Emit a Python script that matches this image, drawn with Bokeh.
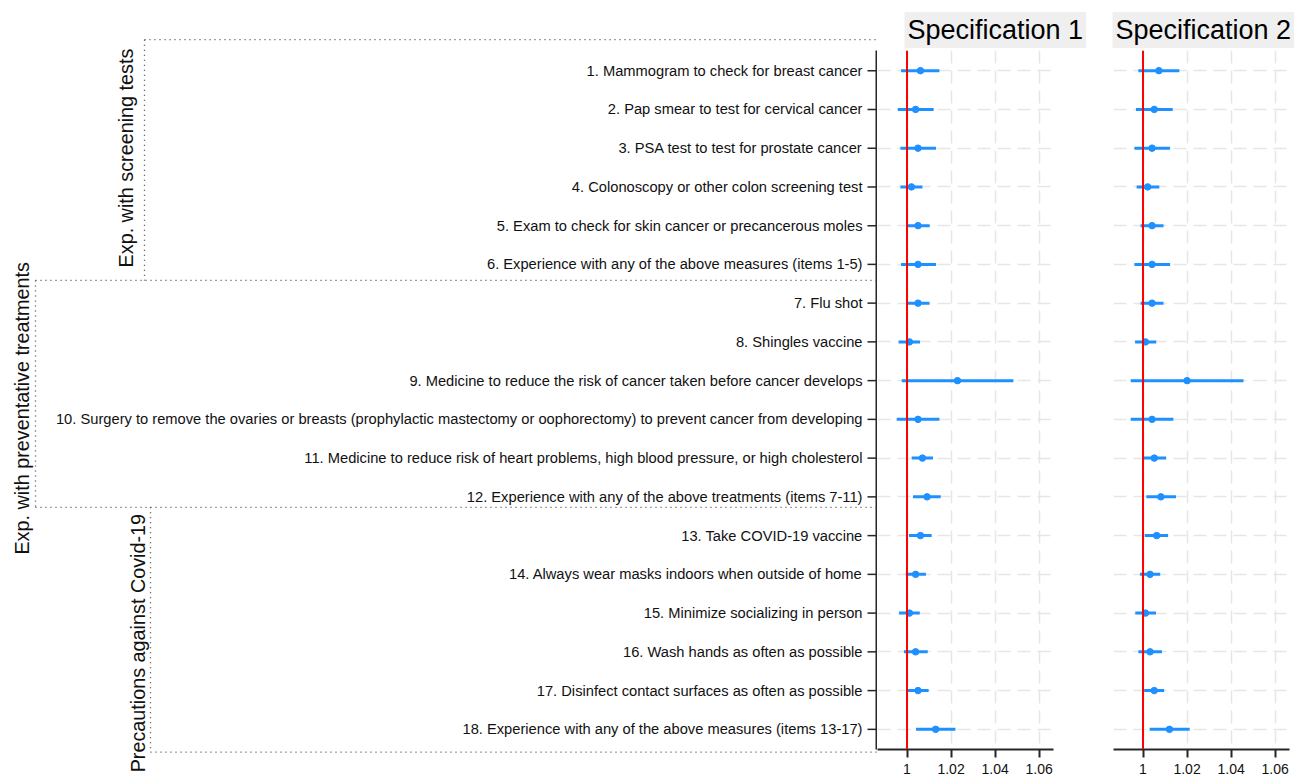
import math
from bokeh.plotting import figure
from bokeh.layouts import row
from bokeh.models import Range1d, FixedTicker, Span
from bokeh.core.properties import value
from bokeh.embed import file_html
from bokeh.resources import INLINE

# ---------------- data ----------------
ITEMS = [
    "1. Mammogram to check for breast cancer",
    "2. Pap smear to test for cervical cancer",
    "3. PSA test to test for prostate cancer",
    "4. Colonoscopy or other colon screening test",
    "5. Exam to check for skin cancer or precancerous moles",
    "6. Experience with any of the above measures (items 1-5)",
    "7. Flu shot",
    "8. Shingles vaccine",
    "9. Medicine to reduce the risk of cancer taken before cancer develops",
    "10. Surgery to remove the ovaries or breasts (prophylactic mastectomy or oophorectomy) to prevent cancer from developing",
    "11. Medicine to reduce risk of heart problems, high blood pressure, or high cholesterol",
    "12. Experience with any of the above treatments (items 7-11)",
    "13. Take COVID-19 vaccine",
    "14. Always wear masks indoors when outside of home",
    "15. Minimize socializing in person",
    "16. Wash hands as often as possible",
    "17. Disinfect contact surfaces as often as possible",
    "18. Experience with any of the above measures (items 13-17)",
]
ROWS = list(range(1, 19))

SPEC1_EST = [1.0061, 1.0039, 1.0050, 1.0020, 1.0050, 1.0050, 1.0050, 1.0011, 1.0229,
             1.0050, 1.0070, 1.0091, 1.0061, 1.0039, 1.0011, 1.0039, 1.0050, 1.0130]
SPEC1_LO = [0.9973, 0.9958, 0.9970, 0.9970, 1.0000, 0.9973, 1.0000, 0.9962, 0.9976,
            0.9953, 1.0021, 1.0027, 1.0009, 0.9994, 0.9964, 0.9986, 1.0000, 1.0041]
SPEC1_HI = [1.0147, 1.0121, 1.0132, 1.0070, 1.0103, 1.0132, 1.0102, 1.0059, 1.0483,
            1.0147, 1.0118, 1.0153, 1.0112, 1.0086, 1.0058, 1.0094, 1.0098, 1.0220]

SPEC2_EST = [1.0072, 1.0051, 1.0041, 1.0021, 1.0041, 1.0041, 1.0041, 1.0011, 1.0200,
             1.0041, 1.0051, 1.0081, 1.0062, 1.0032, 1.0011, 1.0032, 1.0051, 1.0120]
SPEC2_LO = [0.9979, 0.9968, 0.9961, 0.9971, 0.9989, 0.9961, 0.9989, 0.9964, 0.9944,
            0.9944, 1.0000, 1.0015, 1.0008, 0.9986, 0.9965, 0.9979, 1.0005, 1.0030]
SPEC2_HI = [1.0165, 1.0135, 1.0123, 1.0074, 1.0093, 1.0123, 1.0093, 1.0060, 1.0456,
            1.0138, 1.0105, 1.0150, 1.0114, 1.0078, 1.0059, 1.0086, 1.0096, 1.0212]

GROUPS = ["Exp. with screening tests", "Exp. with preventative treatments",
          "Precautions against Covid-19"]
PANEL_TITLES = ["Specification 1", "Specification 2"]
X_TICKS = [1, 1.02, 1.04, 1.06]
X_TICK_LABELS = ["1", "1.02", "1.04", "1.06"]

# ---------------- layout constants ----------------
FONT_NAME = "Liberation Sans"
FONT = value(FONT_NAME)
H = 779
TOP = 50
BOTTOM = 30
Y_LO, Y_HI = 0.48, 18.52
X_MIN, X_MAX = 0.9866, 1.0665
PITCH = (H - TOP - BOTTOM) / (Y_HI - Y_LO)
BLUE = "#1E90FF"
GRID = "#e6e6e6"
DARK = "#262626"

# ---------------- left label figure ----------------
WA = 877
pa = figure(width=WA, height=H, x_range=Range1d(0, WA),
            y_range=Range1d(Y_HI + BOTTOM / PITCH, Y_LO - TOP / PITCH),
            min_border=0, toolbar_location=None, output_backend="svg",
            x_axis_location=None, y_axis_location=None)
pa.frame_align = False
pa.grid.visible = False
pa.outline_line_color = None

pa.text(x=[WA - 15] * len(ROWS), y=ROWS, text=ITEMS, text_align="right",
        text_baseline="middle", text_font=FONT, text_font_size="14.7px",
        text_color="#111111")

# y-axis ticks and spine of panel 1
pa.segment(x0=[WA - 10] * len(ROWS), x1=[WA] * len(ROWS), y0=ROWS, y1=ROWS,
           line_color=DARK, line_width=1.5)
pa.segment(x0=[WA - 1], x1=[WA - 1], y0=[Y_LO], y1=[Y_HI], line_color=DARK, line_width=2)

# group brackets (dotted)
b_top, b_12, b_23, b_bot = 0.20, 6.415, 12.27, 18.587
xg1, xg2, xg3 = 144, 35, 150
bx0 = [xg1, xg1, xg2, xg2, xg2, xg3, xg3]
bx1 = [WA, xg1, WA, xg2, WA, xg3, WA]
by0 = [b_top, b_top, b_12, b_12, b_23, b_23, b_bot]
by1 = [b_top, b_12, b_12, b_23, b_23, b_bot, b_bot]
pa.segment(x0=bx0, x1=bx1, y0=by0, y1=by1, line_color="#444444",
           line_width=1.3, line_dash="1 4")

pa.text(x=[125, 21, 137], y=[3.256, 9.716, 15.775], text=GROUPS, angle=math.pi / 2,
        text_align="center", text_baseline="middle", text_font=FONT,
        text_font_size="19.8px", text_color="#111111")


# ---------------- panels ----------------
def panel(title, est, lo, hi, width, left, right, title_dx):
    p = figure(width=width, height=H, x_range=Range1d(X_MIN, X_MAX),
               y_range=Range1d(Y_HI, Y_LO), toolbar_location=None,
               output_backend="svg", y_axis_location=None,
               min_border_left=left, min_border_right=right,
               min_border_top=TOP, min_border_bottom=BOTTOM)
    p.outline_line_color = None
    p.background_fill_color = "white"
    p.border_fill_color = "white"

    p.title.text = title
    p.title.align = "left"
    p.title.offset = title_dx
    p.title.standoff = 5
    p.title.text_font = FONT_NAME
    p.title.text_font_size = "27px"
    p.title.text_font_style = "normal"
    p.title.text_color = "#000000"
    p.title.background_fill_color = "#efefef"
    p.title.padding = 3

    p.xgrid.ticker = FixedTicker(ticks=X_TICKS)
    p.ygrid.ticker = FixedTicker(ticks=ROWS)
    p.grid.grid_line_color = GRID
    p.grid.grid_line_width = 1.5
    p.grid.grid_line_dash = "13 7"

    ax = p.xaxis[0]
    ax.ticker = FixedTicker(ticks=X_TICKS)
    ax.major_label_overrides = dict(zip(X_TICKS, X_TICK_LABELS))
    ax.minor_tick_line_color = None
    ax.major_tick_in = 0
    ax.major_tick_out = 8
    ax.major_label_standoff = 6
    ax.axis_line_width = 2
    ax.axis_line_color = DARK
    ax.major_tick_line_width = 2
    ax.major_tick_line_color = DARK
    ax.major_label_text_font = FONT_NAME
    ax.major_label_text_font_size = "14px"
    ax.major_label_text_color = "#111111"

    p.add_layout(Span(location=1, dimension="height", line_color="red", line_width=2))
    p.segment(x0=lo, x1=hi, y0=ROWS, y1=ROWS, line_color=BLUE, line_width=3)
    p.scatter(x=est, y=ROWS, size=6.5, fill_color=BLUE, line_color=BLUE)
    return p


pb = panel(PANEL_TITLES[0], SPEC1_EST, SPEC1_LO, SPEC1_HI, 223, 0, 47, 27)
pc = panel(PANEL_TITLES[1], SPEC2_EST, SPEC2_LO, SPEC2_HI, 197, 13, 8, -1)

layout = row(pa, pb, pc)
open("out.html", "w").write(file_html(layout, INLINE))
